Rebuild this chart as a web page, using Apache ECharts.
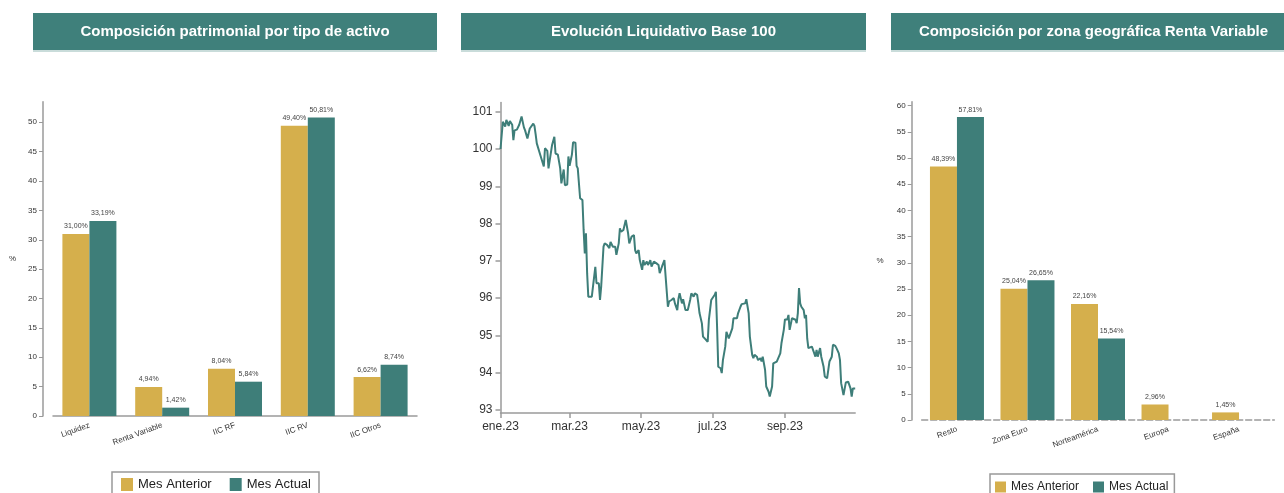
<!DOCTYPE html>
<html><head><meta charset="utf-8">
<script src="https://cdn.jsdelivr.net/npm/echarts@6/dist/echarts.min.js"></script>
<style>html,body{margin:0;padding:0;background:#fff}#c{width:1284px;height:493px}</style>
</head><body><div id="c"></div>
<script>
// ---------- DATA ----------
const panelTitles = ['Composición patrimonial por tipo de activo','Evolución Liquidativo Base 100','Composición por zona geográfica Renta Variable'];
const seriesNames = ['Mes Anterior','Mes Actual'];

const assetCategories = ['Liquidez','Renta Variable','IIC RF','IIC RV','IIC Otros'];
const assetPrev = [31.00, 4.94, 8.04, 49.40, 6.62];
const assetCurr = [33.19, 1.42, 5.84, 50.81, 8.74];
const assetTicks = [0,5,10,15,20,25,30,35,40,45,50];

const geoCategories = ['Resto','Zona Euro','Norteamérica','Europa','España'];
const geoPrev = [48.39, 25.04, 22.16, 2.96, 1.45];
const geoCurr = [57.81, 26.65, 15.54, null, null];
const geoTicks = [0,5,10,15,20,25,30,35,40,45,50,55,60];

const navTicks = [93,94,95,96,97,98,99,100,101];
const navTickDates = ['2023-01-01','2023-03-01','2023-05-01','2023-07-01','2023-09-01'];
const navTickLabels = ['ene.23','mar.23','may.23','jul.23','sep.23'];

const navDates = [
'2023-01-01','2023-01-03','2023-01-05','2023-01-06','2023-01-08','2023-01-09','2023-01-11','2023-01-12','2023-01-13','2023-01-15',
'2023-01-17','2023-01-19','2023-01-21','2023-01-22','2023-01-24','2023-01-26','2023-01-29','2023-01-30','2023-01-31','2023-02-01',
'2023-02-02','2023-02-04','2023-02-05','2023-02-07','2023-02-08','2023-02-10','2023-02-11','2023-02-12','2023-02-14','2023-02-16',
'2023-02-17','2023-02-19','2023-02-21','2023-02-22','2023-02-24','2023-02-25','2023-02-27','2023-02-28','2023-03-01','2023-03-03',
'2023-03-04','2023-03-06','2023-03-07','2023-03-08','2023-03-10','2023-03-12','2023-03-13','2023-03-14','2023-03-15','2023-03-16',
'2023-03-17','2023-03-20','2023-03-21','2023-03-23','2023-03-24','2023-03-26','2023-03-27','2023-03-28','2023-03-30','2023-03-31',
'2023-04-02','2023-04-03','2023-04-04','2023-04-05','2023-04-07','2023-04-09','2023-04-10','2023-04-12','2023-04-13','2023-04-14',
'2023-04-16','2023-04-18','2023-04-20','2023-04-21','2023-04-23','2023-04-25','2023-04-26','2023-04-27','2023-04-29','2023-04-30',
'2023-05-02','2023-05-03','2023-05-04','2023-05-06','2023-05-07','2023-05-09','2023-05-10','2023-05-12','2023-05-13','2023-05-14',
'2023-05-16','2023-05-17','2023-05-19','2023-05-21','2023-05-22','2023-05-24','2023-05-25','2023-05-27','2023-05-29','2023-05-30',
'2023-06-01','2023-06-02','2023-06-03','2023-06-05','2023-06-06','2023-06-08','2023-06-09','2023-06-10','2023-06-12','2023-06-13',
'2023-06-15','2023-06-16','2023-06-18','2023-06-19','2023-06-20','2023-06-22','2023-06-23','2023-06-25','2023-06-26','2023-06-27',
'2023-06-28','2023-06-30','2023-07-01','2023-07-03','2023-07-04','2023-07-05','2023-07-06','2023-07-08','2023-07-09','2023-07-10',
'2023-07-12','2023-07-13','2023-07-14','2023-07-15','2023-07-16','2023-07-18','2023-07-19','2023-07-20','2023-07-22','2023-07-23',
'2023-07-25','2023-07-26','2023-07-27','2023-07-29','2023-07-30','2023-08-01','2023-08-02','2023-08-04','2023-08-05','2023-08-06',
'2023-08-08','2023-08-09','2023-08-11','2023-08-12','2023-08-13','2023-08-15','2023-08-16','2023-08-18','2023-08-19','2023-08-21',
'2023-08-22','2023-08-23','2023-08-25','2023-08-26','2023-08-28','2023-08-29','2023-08-31','2023-09-01','2023-09-03','2023-09-04',
'2023-09-05','2023-09-07','2023-09-08','2023-09-10','2023-09-11','2023-09-12','2023-09-13','2023-09-14','2023-09-15','2023-09-17',
'2023-09-18','2023-09-19','2023-09-20','2023-09-21','2023-09-22','2023-09-24','2023-09-25','2023-09-27','2023-09-28','2023-09-29',
'2023-10-01','2023-10-02','2023-10-04','2023-10-05','2023-10-07','2023-10-08','2023-10-09','2023-10-11','2023-10-12','2023-10-14',
'2023-10-15','2023-10-17','2023-10-18','2023-10-19','2023-10-20','2023-10-21','2023-10-23','2023-10-24','2023-10-25','2023-10-27',
'2023-10-28','2023-10-29','2023-10-31'
];
const navValues = [
100.00,100.73,100.60,100.78,100.62,100.75,100.65,100.24,100.50,100.52,
100.65,100.87,100.58,100.50,100.28,100.55,100.68,100.62,100.40,100.15,
100.20,99.84,99.79,99.53,100.02,99.95,99.48,99.53,100.10,100.33,
99.88,99.85,99.48,99.08,99.45,99.03,99.05,99.80,99.55,99.85,
100.18,100.17,99.55,99.48,98.68,98.63,97.83,97.20,97.74,96.67,
96.04,96.04,96.31,96.84,96.40,96.40,95.95,96.31,97.38,97.47,
97.43,97.47,97.34,97.51,97.38,97.38,97.16,97.47,97.87,97.78,
97.83,98.10,97.74,97.47,97.65,97.69,97.29,97.20,97.29,97.02,
96.76,97.02,96.89,96.98,96.89,97.02,96.85,96.98,96.94,96.94,
96.89,96.67,96.85,97.02,96.98,95.77,95.91,95.95,96.00,95.86,
95.68,95.98,96.13,95.86,95.97,95.68,95.70,95.68,95.95,96.13,
96.04,96.13,96.09,95.86,95.60,95.33,94.97,94.90,94.88,94.83,
95.42,95.95,95.95,96.09,96.17,95.24,94.16,94.12,93.99,94.34,
94.70,95.10,95.01,94.92,94.88,95.19,95.46,95.42,95.46,95.60,
95.77,95.84,95.82,95.86,95.97,95.60,94.97,94.48,94.39,94.48,
94.43,94.34,94.39,94.30,94.43,94.08,93.63,93.49,93.36,93.63,
94.25,94.27,94.30,94.34,94.52,94.79,95.15,95.43,95.43,95.55,
95.15,95.46,95.49,95.42,95.33,95.60,96.27,95.86,95.77,95.68,
95.46,95.55,94.92,94.66,94.61,94.70,94.72,94.43,94.61,94.43,
94.66,94.43,94.16,93.90,93.85,93.90,94.30,94.43,94.75,94.72,
94.66,94.52,94.34,93.72,93.68,93.40,93.74,93.74,93.76,93.58,
93.36,93.58,93.58
];

// ---------- STYLE ----------
const YELLOW = '#d5af4c';
const TEAL = '#3e7e79';
const HEAD = '#3f807b';
const FONT = 'Liberation Sans, Arial, sans-serif';
const AXIS = '#9a9a9a';

function pct(p){ return p.value == null ? '' : p.value.toFixed(2).replace('.', ',') + '%'; }
function parseLocal(s){ const a = s.split('-').map(Number); return new Date(a[0], a[1]-1, a[2]).getTime(); }

const navData = navDates.map((d,i)=>[parseLocal(d), navValues[i]]);
const navTickTs = navTickDates.map(parseLocal);

const chart = echarts.init(document.getElementById('c'), null, {renderer:'canvas'});

function barAxisY(max, ticks, nameGap){
  return {
    type:'value', min:0, max:max, offset:10,
    name:'%', nameLocation:'middle', nameGap:nameGap, nameRotate:0,
    nameTextStyle:{fontSize:8, color:'#333', fontFamily:FONT},
    axisLine:{show:true, lineStyle:{color:AXIS, width:1.5}},
    axisTick:{show:true, length:4, customValues:ticks, lineStyle:{color:AXIS}},
    axisLabel:{customValues:ticks, fontSize:8, color:'#333', margin:6, fontFamily:FONT},
    splitLine:{show:false}
  };
}
function barAxisX(cats, dashed){
  return {
    type:'category', data:cats,
    axisLine:{show:true, lineStyle:{color:AXIS, width:1.5, type: dashed ? 'dashed' : 'solid'}},
    axisTick:{show:false},
    axisLabel:{interval:0, rotate:20, fontSize:8, color:'#333', margin:9, fontFamily:FONT}
  };
}
function barSeries(name, data, idx, color){
  return {
    type:'bar', name:name, data:data, xAxisIndex:idx, yAxisIndex:idx,
    barWidth:27, barGap:'0%',
    itemStyle:{color:color},
    label:{show:true, position:'top', distance:4, fontSize:7, color:'#444', fontFamily:FONT, formatter:pct}
  };
}

const graphics = [];
const heads = [[33,404],[461,405],[891,405]];
heads.forEach((h,i)=>{
  graphics.push({type:'rect', shape:{x:h[0], y:13, width:h[1], height:37}, style:{fill:HEAD}, silent:true});
  graphics.push({type:'rect', shape:{x:h[0], y:50, width:h[1], height:2}, style:{fill:'#c9dcda'}, silent:true});
  graphics.push({type:'text', x:h[0]+h[1]/2, y:32, style:{text:panelTitles[i], fill:'#fff', font:'bold 15px '+FONT, textAlign:'center', textVerticalAlign:'middle'}, silent:true});
});

const option = {
  animation:false,
  backgroundColor:'#fff',
  textStyle:{fontFamily:FONT},
  graphic:graphics,
  legend:[
    {data:seriesNames, left:112, top:472, orient:'horizontal', icon:'rect', itemWidth:12, itemHeight:13, itemGap:18,
     borderColor:'#999', borderWidth:1.5, padding:[6,8,4,9], textStyle:{fontSize:13, color:'#222', fontFamily:FONT}},
    {data:seriesNames, left:990, top:474, orient:'horizontal', icon:'rect', itemWidth:11, itemHeight:11, itemGap:14,
     borderColor:'#999', borderWidth:1.5, padding:[7,6,4,5], textStyle:{fontSize:12, color:'#222', fontFamily:FONT}}
  ],
  grid:[
    {left:53, width:364, top:101.7, height:314.3},
    {left:500.5, width:354.7, top:102.4, height:310.6},
    {left:921.7, width:352.6, top:101.7, height:318.3}
  ],
  xAxis:[
    Object.assign(barAxisX(assetCategories,false), {gridIndex:0}),
    {
      gridIndex:1, type:'value', min:parseLocal('2023-01-01'), max:parseLocal('2023-10-31'),
      axisLine:{show:true, lineStyle:{color:AXIS, width:1.5}},
      axisTick:{show:true, length:5, customValues:navTickTs, lineStyle:{color:AXIS, width:1.5}},
      axisLabel:{customValues:navTickTs, fontSize:12, color:'#333', margin:8, fontFamily:FONT,
        formatter:function(v){ const i = navTickTs.indexOf(v); return i >= 0 ? navTickLabels[i] : ''; }},
      splitLine:{show:false}
    },
    Object.assign(barAxisX(geoCategories,true), {gridIndex:2})
  ],
  yAxis:[
    Object.assign(barAxisY(53.5, assetTicks, 27), {gridIndex:0}),
    {
      gridIndex:1, type:'value', min:92.92, max:101.25,
      axisLine:{show:true, lineStyle:{color:AXIS, width:1.5}},
      axisTick:{show:true, length:5, customValues:navTicks, lineStyle:{color:AXIS, width:1.5}},
      axisLabel:{customValues:navTicks, fontSize:12, color:'#333', margin:8, fontFamily:FONT},
      splitLine:{show:false}
    },
    Object.assign(barAxisY(60.75, geoTicks, 28), {gridIndex:2})
  ],
  series:[
    barSeries(seriesNames[0], assetPrev, 0, YELLOW),
    barSeries(seriesNames[1], assetCurr, 0, TEAL),
    {type:'line', name:'Liquidativo', data:navData, xAxisIndex:1, yAxisIndex:1,
     showSymbol:false, symbol:'none', lineStyle:{color:TEAL, width:2}, itemStyle:{color:TEAL}},
    barSeries(seriesNames[0], geoPrev, 2, YELLOW),
    barSeries(seriesNames[1], geoCurr, 2, TEAL)
  ]
};
chart.setOption(option);
</script>
</body></html>
